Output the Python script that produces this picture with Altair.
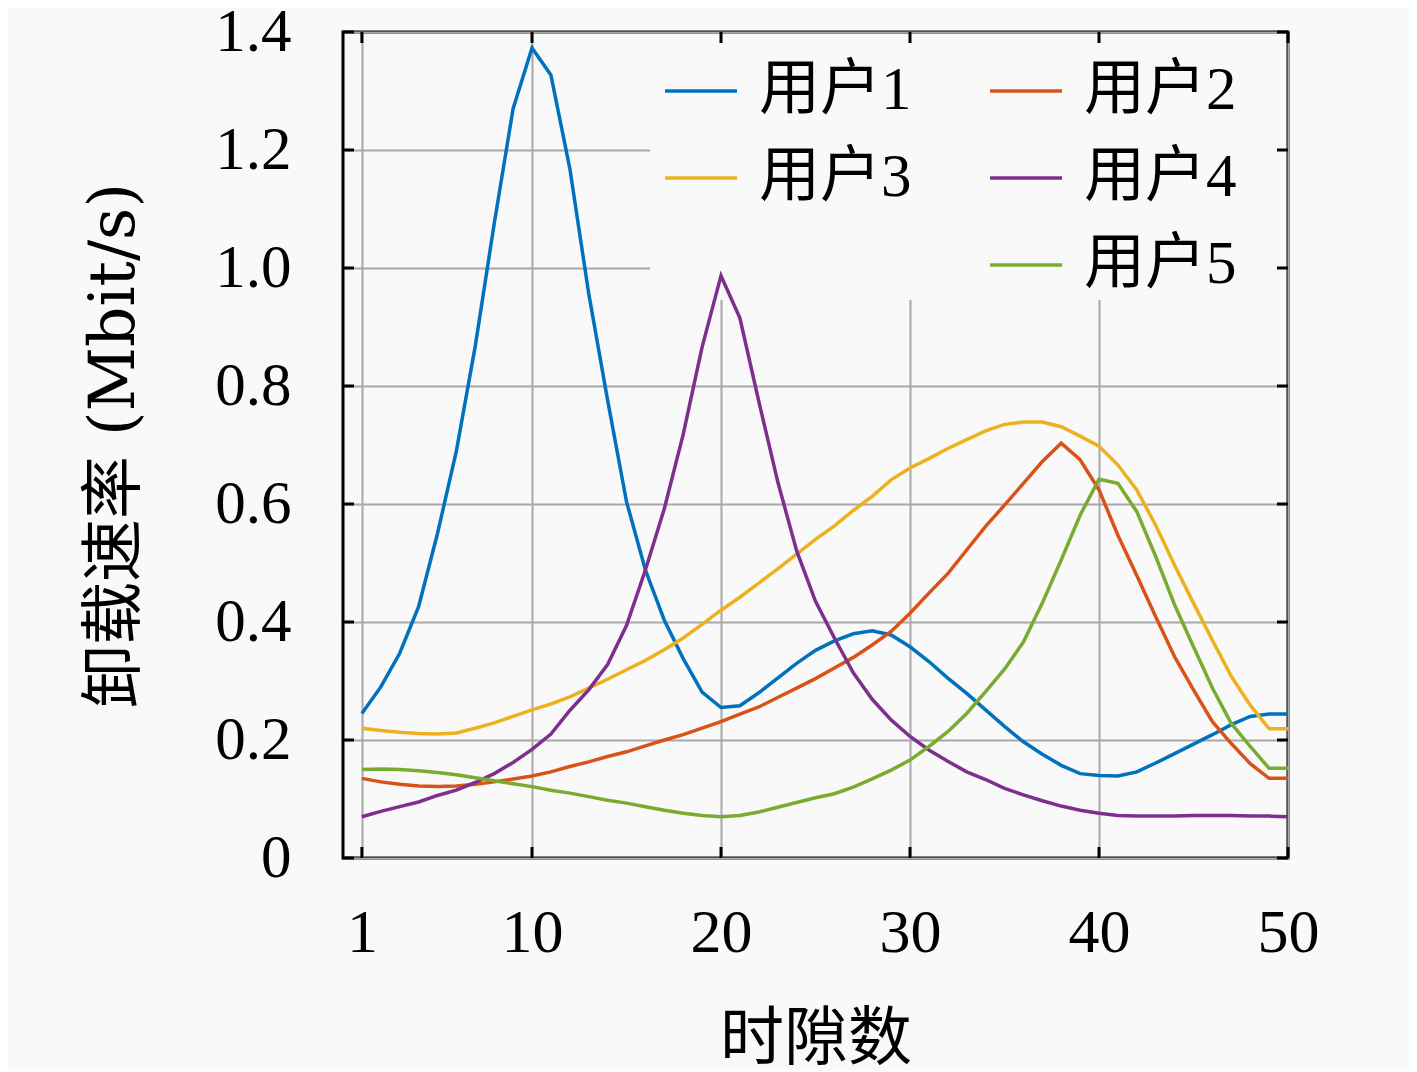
import altair as alt
import pandas as pd

# ---------------- data ----------------
slots = list(range(1, 51))

user1 = [0.245, 0.290, 0.347, 0.426, 0.550, 0.690, 0.868, 1.075, 1.270, 1.373,
         1.327, 1.169, 0.957, 0.776, 0.604, 0.488, 0.403, 0.338, 0.281, 0.255,
         0.258, 0.280, 0.305, 0.330, 0.352, 0.368, 0.380, 0.385, 0.378, 0.358,
         0.333, 0.305, 0.279, 0.251, 0.223, 0.197, 0.176, 0.157, 0.143, 0.140,
         0.139, 0.146, 0.161, 0.177, 0.193, 0.209, 0.226, 0.240, 0.244, 0.244]

user2 = [0.135, 0.129, 0.125, 0.122, 0.121, 0.122, 0.125, 0.129, 0.134, 0.139,
         0.146, 0.155, 0.163, 0.172, 0.180, 0.190, 0.200, 0.209, 0.220, 0.231,
         0.244, 0.256, 0.272, 0.288, 0.304, 0.322, 0.340, 0.361, 0.384, 0.415,
         0.449, 0.482, 0.522, 0.562, 0.598, 0.635, 0.672, 0.703, 0.675, 0.624,
         0.547, 0.479, 0.409, 0.341, 0.285, 0.231, 0.194, 0.160, 0.135, 0.135]

user3 = [0.220, 0.216, 0.213, 0.211, 0.210, 0.212, 0.220, 0.229, 0.240, 0.251,
         0.261, 0.273, 0.288, 0.303, 0.319, 0.335, 0.353, 0.373, 0.396, 0.420,
         0.442, 0.466, 0.490, 0.515, 0.540, 0.563, 0.589, 0.613, 0.641, 0.661,
         0.677, 0.694, 0.709, 0.724, 0.735, 0.739, 0.739, 0.731, 0.715, 0.698,
         0.666, 0.624, 0.564, 0.496, 0.432, 0.369, 0.308, 0.259, 0.219, 0.219]

user4 = [0.070, 0.079, 0.087, 0.095, 0.106, 0.115, 0.128, 0.143, 0.162, 0.184,
         0.210, 0.250, 0.285, 0.328, 0.394, 0.488, 0.592, 0.718, 0.866, 0.987,
         0.915, 0.774, 0.638, 0.521, 0.435, 0.373, 0.314, 0.269, 0.234, 0.206,
         0.183, 0.164, 0.146, 0.133, 0.118, 0.107, 0.097, 0.088, 0.081, 0.076,
         0.072, 0.071, 0.071, 0.071, 0.072, 0.072, 0.072, 0.071, 0.071, 0.070]

user5 = [0.150, 0.151, 0.150, 0.148, 0.145, 0.141, 0.136, 0.131, 0.126, 0.121,
         0.115, 0.110, 0.104, 0.098, 0.093, 0.087, 0.081, 0.076, 0.072, 0.070,
         0.072, 0.078, 0.086, 0.094, 0.102, 0.109, 0.120, 0.134, 0.149, 0.166,
         0.189, 0.214, 0.245, 0.282, 0.320, 0.366, 0.432, 0.505, 0.581, 0.642,
         0.635, 0.587, 0.511, 0.429, 0.358, 0.288, 0.228, 0.189, 0.152, 0.152]

series_names = ["用户1", "用户2", "用户3", "用户4", "用户5"]
series_colors = ["#0072BD", "#D95319", "#EDB120", "#7E2F8E", "#77AC30"]
x_ticks = [1, 10, 20, 30, 40, 50]
y_ticks = [0, 0.2, 0.4, 0.6, 0.8, 1.0, 1.2, 1.4]

rows = []
for name, vals in zip(series_names, [user1, user2, user3, user4, user5]):
    for s, v in zip(slots, vals):
        rows.append({"slot": s, "rate": v, "user": name})
df = pd.DataFrame(rows)

# legend grid: an empty cell before 用户5 so that it sits in the right column
legend_domain = series_names[:4] + [" "] + series_names[4:]
legend_range = series_colors[:4] + ["rgba(0,0,0,0)"] + series_colors[4:]

# ---------------- style ----------------
W, H = 945, 826
BG = "#f9f9f9"
FONT = "Liberation Serif, Noto Sans CJK SC"
YTITLE_FONT = "DejaVu Serif, Noto Sans CJK SC"
TICK = 11

xscale = alt.Scale(domain=[0, 50], nice=False, zero=False)
yscale = alt.Scale(domain=[0, 1.4], nice=False, zero=False)

# legend background (hides grid behind legend, lines stay on top)
mask = alt.Chart(alt.Data(values=[{}])).mark_rect(fill=BG, strokeWidth=0).encode(
    x=alt.value(307), x2=alt.value(943), y=alt.value(2), y2=alt.value(268)
)

lines = alt.Chart(df).mark_line(strokeWidth=3.5).encode(
    x=alt.X("slot:Q", scale=xscale,
            axis=alt.Axis(values=x_ticks, title="时隙数", grid=True,
                          gridColor="#a8a8a8", gridWidth=2, gridOpacity=1,
                          ticks=False, tickSize=0, domain=False,
                          labelFont=FONT, labelFontSize=62, labelColor="black",
                          labelPadding=44, labelFlush=False,
                          titleFont=FONT, titleFontSize=64, titleFontWeight="normal",
                          titleColor="black", titlePadding=44)),
    y=alt.Y("rate:Q", scale=yscale,
            axis=alt.Axis(values=y_ticks, title="卸载速率 (Mbit/s)", grid=True,
                          gridColor="#a8a8a8", gridWidth=2, gridOpacity=1,
                          ticks=False, tickSize=0, domain=False,
                          labelExpr="datum.value == 0 ? '0' : format(datum.value, '.1f')",
                          labelFont=FONT, labelFontSize=61, labelColor="black",
                          labelPadding=52, labelFlush=False,
                          titleFont=YTITLE_FONT, titleFontSize=63, titleFontWeight="normal",
                          titleColor="black", titlePadding=68)),
    color=alt.Color("user:N",
                    scale=alt.Scale(domain=legend_domain, range=legend_range),
                    legend=alt.Legend(title=None, orient="none", legendX=320, legendY=21,
                                      columns=2, direction="horizontal",
                                      symbolType="stroke", symbolSize=5184,
                                      symbolStrokeWidth=3.5, labelFont=FONT,
                                      labelFontSize=61, labelColor="black",
                                      labelOffset=20, columnPadding=71, rowPadding=19,
                                      padding=0)),
)

xt = pd.DataFrame({"slot": x_ticks})
yt = pd.DataFrame({"rate": y_ticks})

tick_bottom = alt.Chart(xt).mark_rule(color="black", strokeWidth=3).encode(
    x=alt.X("slot:Q", scale=xscale), y=alt.value(H - TICK), y2=alt.value(H))
tick_top = alt.Chart(xt).mark_rule(color="black", strokeWidth=3).encode(
    x=alt.X("slot:Q", scale=xscale), y=alt.value(0), y2=alt.value(TICK))
tick_left = alt.Chart(yt).mark_rule(color="black", strokeWidth=3).encode(
    y=alt.Y("rate:Q", scale=yscale), x=alt.value(0), x2=alt.value(TICK))
tick_right = alt.Chart(yt).mark_rule(color="black", strokeWidth=3).encode(
    y=alt.Y("rate:Q", scale=yscale), x=alt.value(W - TICK), x2=alt.value(W))

chart = alt.layer(mask, lines, tick_bottom, tick_top, tick_left, tick_right).properties(
    width=W, height=H,
    autosize=alt.AutoSizeParams(type="none"),
    padding={"left": 335, "top": 24, "right": 121, "bottom": 213},
    background=BG,
).configure_view(stroke="black", strokeWidth=3)

chart.save("out.html", embed_options={"renderer": "svg", "actions": False})
